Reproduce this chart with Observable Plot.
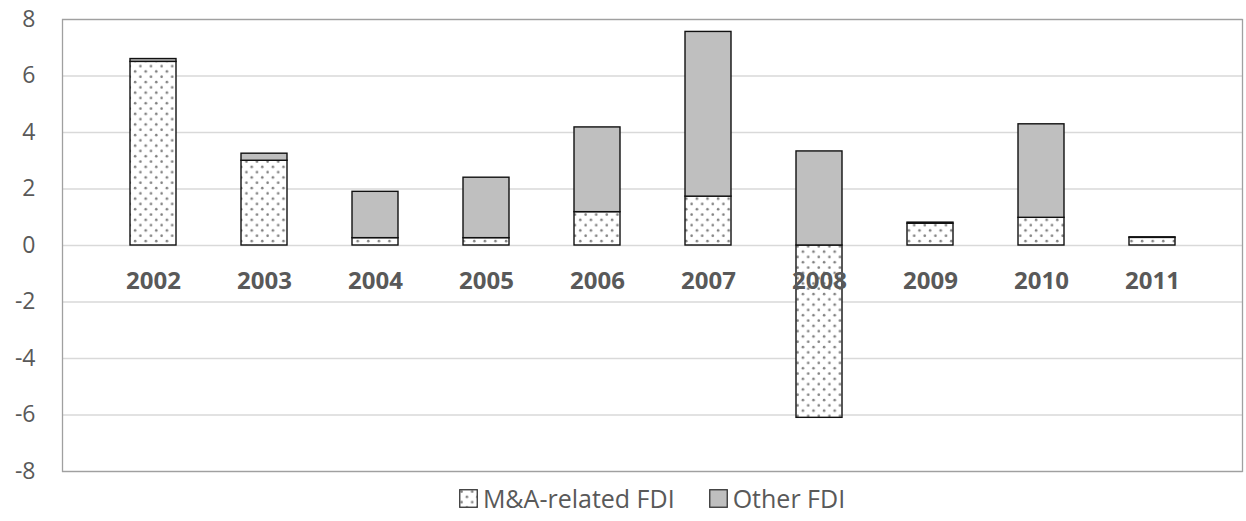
<!DOCTYPE html>
<html>
<head>
<meta charset="utf-8">
<script src="https://cdn.jsdelivr.net/npm/d3@7"></script>
<script src="https://cdn.jsdelivr.net/npm/@observablehq/plot@0.6"></script>
<style>
  html, body { margin: 0; padding: 0; background: #fff; }
  body { width: 1246px; height: 521px; overflow: hidden; font-family: "Open Sans", sans-serif; }
  #chart svg { display: block; }
  #legend { display: flex; justify-content: center; align-items: center; height: 24px;
            padding-left: 58px; box-sizing: border-box; width: 1246px;
            font-size: 25px; color: #595959; }
  .item { display: flex; align-items: center; }
  .item + .item { margin-left: 34px; }
  .item svg { margin-right: 5px; }
</style>
</head>
<body>
<div id="chart"></div>
<div id="legend"></div>
<script>
const years = ["2002","2003","2004","2005","2006","2007","2008","2009","2010","2011"];
const seriesNames = ["M&A-related FDI", "Other FDI"];
const maValues    = [6.5, 3.0, 0.26, 0.26, 1.18, 1.73, -6.1, 0.77, 0.98, 0.27];
const otherValues = [0.1, 0.25, 1.64, 2.14, 3.0, 5.83, 3.33, 0.04, 3.31, 0.02];
const yTicks = [-8, -6, -4, -2, 0, 2, 4, 6, 8];

const rows = [];
years.forEach((yr, i) => {
  rows.push({year: yr, series: seriesNames[0], value: maValues[i]});
  rows.push({year: yr, series: seriesNames[1], value: otherValues[i]});
});

const chart = Plot.plot({
  width: 1246,
  height: 486,
  marginLeft: 62,
  marginRight: 4,
  marginTop: 19,
  marginBottom: 15,
  style: {fontFamily: "'Open Sans', sans-serif", background: "#fff"},
  x: {domain: years, padding: 0.59, axis: null},
  y: {domain: [-8, 8], ticks: yTicks, label: null},
  color: {domain: seriesNames, range: ["url(#dots)", "#bfbfbf"]},
  marks: [
    Plot.gridY(yTicks, {stroke: "#d9d9d9", strokeOpacity: 1, strokeWidth: 1.3}),
    Plot.axisY(yTicks, {tickSize: 0, tickPadding: 27, fontSize: 23, fill: "#595959", label: null,
      tickFormat: d => String(d)}),
    Plot.barY(rows, Plot.stackY({x: "year", y: "value", fill: "series", z: "series", order: seriesNames,
      stroke: "#111", strokeWidth: 1.4})),
    Plot.text(years, {x: d => d, y: () => 0, dy: 36, text: d => d, fontSize: 24, fontWeight: "bold", fill: "#595959"}),
    Plot.frame({stroke: "#a0a0a0", strokeWidth: 1.3})
  ]
});

d3.select(chart).insert("defs", ":first-child").html(`
  <pattern id="dots" patternUnits="userSpaceOnUse" width="10.6" height="10.6">
    <rect width="10.6" height="10.6" fill="#fff"></rect>
    <circle cx="2.6" cy="2.6" r="1.3" fill="#7f7f7f"></circle>
    <circle cx="7.9" cy="7.9" r="1.3" fill="#7f7f7f"></circle>
  </pattern>`);

document.getElementById("chart").appendChild(chart);

const legend = d3.select("#legend");
const swatchFills = ["url(#dots)", "#bfbfbf"];
seriesNames.forEach((name, i) => {
  const item = legend.append("div").attr("class", "item");
  const s = item.append("svg").attr("width", 19).attr("height", 19);
  s.append("rect").attr("x", 0.75).attr("y", 0.75).attr("width", 17.5).attr("height", 17.5)
    .attr("fill", swatchFills[i]).attr("stroke", "#333").attr("stroke-width", 1.3);
  item.append("span").text(name);
});
</script>
</body>
</html>
